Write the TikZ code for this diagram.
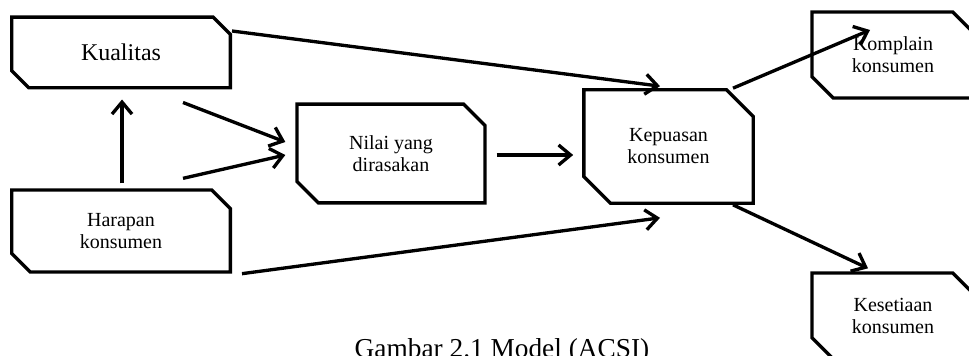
\documentclass[tikz,border=0pt]{standalone}
\usepackage{fontspec}
\setmainfont{Liberation Serif}
\usetikzlibrary{shapes.misc,arrows.meta,calc}

\tikzset{
  kotak/.style={chamfered rectangle, chamfered rectangle corners={north east,south west},
    chamfered rectangle xsep=#1, chamfered rectangle ysep=#1,
    draw, line width=2.5pt, inner sep=0pt, align=center,
    font=\fontsize{15}{16.5}\selectfont},
  kotak/.default=6.5pt,
  panah/.style={line width=2.5pt, -{Straight Barb[length=9pt,width=15pt,line width=2.5pt]}}
}

\begin{document}
\begin{tikzpicture}[x=0.75pt, y=-0.75pt]
\useasboundingbox (0,0) rectangle (969,356);
\clip (0,0) rectangle (969,356);

% kotak
\node[kotak, minimum width=164pt, minimum height=53pt, font=\fontsize{18}{20}\selectfont] (kual) at (121,52.5) {Kualitas};
\node[kotak=7pt, minimum width=164pt, minimum height=61.5pt] (har) at (121,231) {Harapan\\konsumen};
\node[kotak=8pt, minimum width=141pt, minimum height=74pt] (nilai) at (391,153.5) {Nilai yang\\dirasakan};
\node[kotak=10pt, minimum width=127pt, minimum height=85pt] (kep) at (668.5,146.5) {Kepuasan\\konsumen};
\node[kotak=8pt, minimum width=121.5pt, minimum height=64.5pt] (komp) at (893,55) {Komplain\\konsumen};
\node[kotak=8pt, minimum width=121.5pt, minimum height=64.5pt] (kes) at (893,316) {Kesetiaan\\konsumen};

% panah
\draw[panah] ($(kual.east)+(0,-21.5)$) -- ($(kep.north)+(-8.5,-2)$);
\draw[panah] ($(kual.south)+(62,13)$) -- ($(nilai.west)+(-10,-11.5)$);
\draw[panah] ($(har.north)+(62,-10)$) -- ($(nilai.west)+(-10,1.5)$);
\draw[panah] ($(har.north)+(1,-5)$) -- ($(kual.south)+(1,10)$);
\draw[panah] ($(nilai.east)+(10,1.5)$) -- ($(kep.west)+(-9,8.5)$);
\draw[panah] ($(har.south east)+(10,0)$) -- ($(kep.south)+(-8.5,13)$);
\draw[panah] ($(kep.north)+(64.5,0)$) -- ($(komp.center)+(-23,-25)$);
\draw[panah] ($(kep.south)+(64.5,0)$) -- ($(kes.north)+(-25,-3)$);

\node[anchor=base, font=\fontsize{20.5}{24}\selectfont] (judul) at (502,357) {Gambar 2.1 Model (ACSI)};
\end{tikzpicture}
\end{document}
